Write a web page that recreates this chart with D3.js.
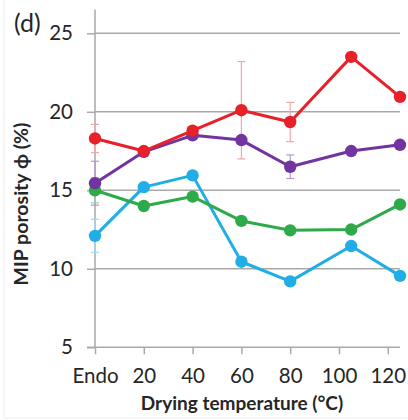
<!DOCTYPE html>
<html>
<head>
<meta charset="utf-8">
<script src="https://cdn.jsdelivr.net/npm/d3@7"></script>
<style>
  html, body { margin: 0; padding: 0; background: #fff; }
  svg { display: block; }
</style>
</head>
<body>
<svg id="chart" width="408" height="420"></svg>
<script>
// Data
const xValues = [0, 20, 40, 60, 80, 105, 125];
const xTickValues = [0, 20, 40, 60, 80, 100, 120];
const xTickLabels = ["Endo", "20", "40", "60", "80", "100", "120"];
const yTickValues = [5, 10, 15, 20, 25];

const redValues    = [18.3, 17.5, 18.8, 20.1, 19.35, 23.5, 20.95];
const purpleValues = [15.45, 17.45, 18.5, 18.2, 16.5, 17.5, 17.9];
const greenValues  = [15.0, 14.0, 14.6, 13.05, 12.45, 12.5, 14.1];
const blueValues   = [12.1, 15.2, 15.95, 10.45, 9.2, 11.45, 9.55];

const redErrors    = [0.9, 0, 0, 3.1, 1.25, 0, 0];
const purpleErrors = [1.4, 0, 0, 0, 0.75, 0, 0];
const greenErrors  = [0.8, 0, 0, 0, 0, 0, 0];
const blueErrors   = [1.05, 0, 0, 0, 0, 0, 0];

const seriesColors = ["#e8202a", "#7134a0", "#2eaa4a", "#21ade6"];
const errorColors  = ["#f3a7a7", "#b39acb", "#9ed3a9", "#9fd9f3"];

const series = [
  { values: redValues, errors: redErrors },
  { values: purpleValues, errors: purpleErrors },
  { values: greenValues, errors: greenErrors },
  { values: blueValues, errors: blueErrors }
];

const svg = d3.select("#chart");
const font = "Lato, 'Open Sans', sans-serif";

// frame lines (faint page border)
svg.append("line").attr("x1", 4).attr("x2", 4).attr("y1", 0).attr("y2", 418)
  .attr("stroke", "#ececec").attr("stroke-width", 1);
svg.append("line").attr("x1", 4).attr("x2", 408).attr("y1", 418).attr("y2", 418)
  .attr("stroke", "#ececec").attr("stroke-width", 1);

const x = d3.scaleLinear().domain([0, 125]).range([95, 400]);
const y = d3.scaleLinear().domain([5, 25]).range([347.3, 33.3]);

// gridlines
svg.append("g").selectAll("line").data(yTickValues.filter(v => v > 5)).join("line")
  .attr("x1", x(0)).attr("x2", x(125))
  .attr("y1", d => y(d)).attr("y2", d => y(d))
  .attr("stroke", "#a9a9a9").attr("stroke-width", 1.5);

// y axis
const yAxis = d3.axisLeft(y).tickValues(yTickValues).tickSize(8).tickPadding(14).tickFormat(d3.format("d"));
const gy = svg.append("g").attr("transform", `translate(${x(0)},0)`).call(yAxis);
gy.select(".domain").remove();
gy.selectAll(".tick line").attr("stroke", "#a9a9a9").attr("stroke-width", 1.5);
gy.selectAll(".tick text").attr("font-family", font).attr("font-size", 20.5).attr("fill", "#262626");
svg.append("line").attr("x1", x(0)).attr("x2", x(0)).attr("y1", 9.5).attr("y2", y(5))
  .attr("stroke", "#a9a9a9").attr("stroke-width", 1.5);

// x axis
const xAxis = d3.axisBottom(x).tickValues(xTickValues).tickSize(7).tickPadding(14)
  .tickFormat((d, i) => xTickLabels[i]);
const gx = svg.append("g").attr("transform", `translate(0,${y(5)})`).call(xAxis);
gx.select(".domain").remove();
gx.selectAll(".tick line").attr("stroke", "#a9a9a9").attr("stroke-width", 1.5);
gx.selectAll(".tick text").attr("font-family", font).attr("font-size", 20.5).attr("fill", "#262626");
svg.append("line").attr("x1", x(0) - 8).attr("x2", x(125)).attr("y1", y(5)).attr("y2", y(5))
  .attr("stroke", "#a9a9a9").attr("stroke-width", 1.5);

// error bars
series.forEach((s, si) => {
  const eb = svg.append("g");
  const pts = xValues.map((xv, i) => ({ x: xv, v: s.values[i], e: s.errors[i] })).filter(d => d.e > 0);
  eb.selectAll("line.v").data(pts).join("line")
    .attr("x1", d => x(d.x)).attr("x2", d => x(d.x))
    .attr("y1", d => y(d.v + d.e)).attr("y2", d => y(d.v - d.e))
    .attr("stroke", errorColors[si]).attr("stroke-width", 1.2);
  eb.selectAll("line.t").data(pts).join("line")
    .attr("x1", d => x(d.x) - 4).attr("x2", d => x(d.x) + 4)
    .attr("y1", d => y(d.v + d.e)).attr("y2", d => y(d.v + d.e))
    .attr("stroke", errorColors[si]).attr("stroke-width", 1.2);
  eb.selectAll("line.b").data(pts).join("line")
    .attr("x1", d => x(d.x) - 4).attr("x2", d => x(d.x) + 4)
    .attr("y1", d => y(d.v - d.e)).attr("y2", d => y(d.v - d.e))
    .attr("stroke", errorColors[si]).attr("stroke-width", 1.2);
});

// lines and markers
const line = d3.line().x(d => x(d[0])).y(d => y(d[1]));
[3, 2, 1, 0].forEach(si => {
  const s = series[si];
  const data = xValues.map((xv, i) => [xv, s.values[i]]);
  svg.append("path").datum(data).attr("d", line)
    .attr("fill", "none").attr("stroke", seriesColors[si]).attr("stroke-width", 3)
    .attr("stroke-linejoin", "round");
  svg.append("g").selectAll("circle").data(data).join("circle")
    .attr("cx", d => x(d[0])).attr("cy", d => y(d[1])).attr("r", 6.2)
    .attr("fill", seriesColors[si]);
});

// titles
svg.append("text").attr("x", 242).attr("y", 410).attr("text-anchor", "middle")
  .attr("font-family", font).attr("font-weight", "bold").attr("font-size", 19).attr("fill", "#262626")
  .text("Drying temperature (°C)");
svg.append("text").attr("transform", "translate(28,204) rotate(-90)").attr("text-anchor", "middle")
  .attr("font-family", font).attr("font-weight", "bold").attr("font-size", 19.5).attr("fill", "#262626")
  .text("MIP porosity ϕ (%)");
svg.append("text").attr("x", 14).attr("y", 32)
  .attr("font-family", font).attr("font-size", 25).attr("fill", "#262626")
  .text("(d)");
</script>
</body>
</html>
